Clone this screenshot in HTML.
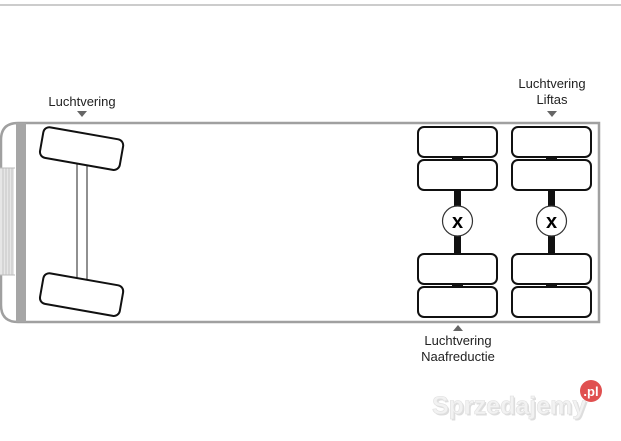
<!DOCTYPE html>
<html><head><style>
body{margin:0;width:621px;height:436px;background:#fff;overflow:hidden;font-family:"Liberation Sans",sans-serif}
</style></head><body>
<svg width="621" height="436" viewBox="0 0 621 436" xmlns="http://www.w3.org/2000/svg">
<line x1="0" y1="5" x2="621" y2="5" stroke="#ccc" stroke-width="2"/>
<path d="M599 123 H18 Q1 123 1 140 V305 Q1 322 18 322 H599 Z" fill="#fff" stroke="#a0a0a0" stroke-width="2.5"/>
<rect x="16" y="123" width="10" height="199" fill="#a6a6a6"/>
<rect x="0" y="168" width="14" height="107" fill="#e6e6e6"/>
<g stroke="#c4c4c4" stroke-width="1"><line x1="3" y1="168" x2="3" y2="275"/><line x1="6" y1="168" x2="6" y2="275"/><line x1="9" y1="168" x2="9" y2="275"/><line x1="12" y1="168" x2="12" y2="275"/></g>
<line x1="0" y1="168" x2="15" y2="168" stroke="#bbb"/><line x1="0" y1="275" x2="15" y2="275" stroke="#bbb"/>
<g stroke="#222" stroke-width="1" fill="none"><line x1="77" y1="163" x2="77" y2="280"/><line x1="87" y1="163" x2="87" y2="280"/></g>
<g fill="#fff" stroke="#111" stroke-width="2">
<rect x="41" y="133" width="81" height="31" rx="6" transform="rotate(10 81 149)"/>
<rect x="41" y="279" width="81" height="31" rx="6" transform="rotate(10 81 295)"/>
</g>
<g>
<rect x="454" y="190" width="7" height="63" fill="#111"/>
<rect x="548" y="190" width="7" height="63" fill="#111"/>
<rect x="452" y="155" width="11" height="6" fill="#111"/><rect x="546" y="155" width="11" height="6" fill="#111"/>
<rect x="452" y="282" width="11" height="6" fill="#111"/><rect x="546" y="282" width="11" height="6" fill="#111"/>
<g fill="#fff" stroke="#111" stroke-width="2">
<rect x="418" y="127" width="79" height="30" rx="6"/><rect x="418" y="160" width="79" height="30" rx="6"/>
<rect x="418" y="254" width="79" height="30" rx="6"/><rect x="418" y="287" width="79" height="30" rx="6"/>
<rect x="512" y="127" width="79" height="30" rx="6"/><rect x="512" y="160" width="79" height="30" rx="6"/>
<rect x="512" y="254" width="79" height="30" rx="6"/><rect x="512" y="287" width="79" height="30" rx="6"/>
</g>
<g fill="#fff" stroke="#333" stroke-width="1.2"><circle cx="457.5" cy="221" r="15"/><circle cx="551.5" cy="221" r="15"/></g>
<g font-weight="bold" font-size="20" text-anchor="middle" fill="#000"><text x="457.5" y="228">x</text><text x="551.5" y="228">x</text></g>
</g>
<g font-size="13" fill="#222" text-anchor="middle">
<text x="82" y="106">Luchtvering</text>
<text x="552" y="88">Luchtvering</text><text x="552" y="104">Liftas</text>
<text x="458" y="345">Luchtvering</text><text x="458" y="361">Naafreductie</text>
</g>
<g fill="#666"><path d="M77 111 H87 L82 117 Z"/><path d="M547 111 H557 L552 117 Z"/><path d="M453 331 H463 L458 325 Z"/></g>
<text x="432" y="414" font-size="25" font-weight="bold" fill="#c8c8c8" opacity="0.6" transform="translate(1.5,1.5)">Sprzedajemy</text>
<text x="432" y="414" font-size="25" font-weight="bold" fill="#f2f2f2" stroke="#e0e0e0" stroke-width="0.6">Sprzedajemy</text>
<circle cx="591" cy="391" r="11" fill="#e05050"/>
<text x="591" y="396" font-size="13" font-weight="bold" fill="#fff" text-anchor="middle">.pl</text>
</svg>
</body></html>
